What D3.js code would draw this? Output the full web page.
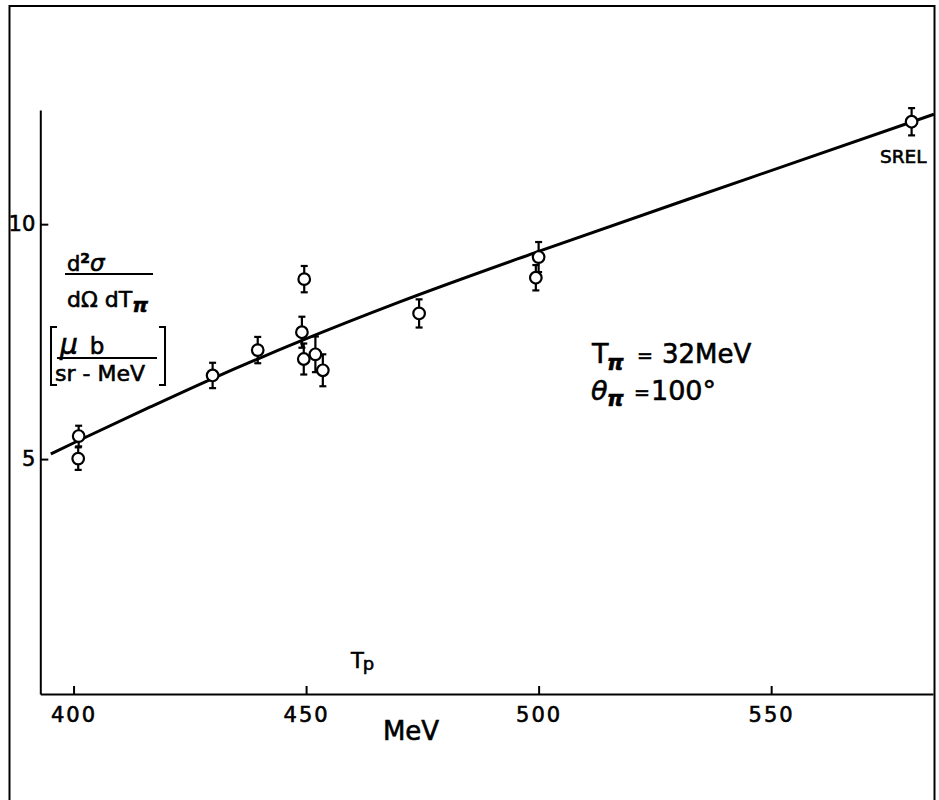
<!DOCTYPE html>
<html>
<head>
<meta charset="utf-8">
<script src="https://cdn.jsdelivr.net/npm/d3@7/dist/d3.min.js"></script>
<style>
  html, body { margin: 0; padding: 0; background: #fff; }
  svg { display: block; font-family: "DejaVu Sans", sans-serif; }
  text { stroke: #000; stroke-width: 0.6px; }
</style>
</head>
<body>
<svg id="chart" width="939" height="800"></svg>
<script>
// ---- data ----
const xTicks = [400, 450, 500, 550];
const yTicks = [5, 10];

// measured points: beam energy Tp (MeV), cross section (μb/sr-MeV), error
const pointTp   = [401.1, 401.0, 429.9, 439.6, 449.1, 449.6, 449.5, 452.0, 453.6, 474.3, 500.0, 499.4, 580.2];
const pointVal  = [5.49, 5.01, 6.78, 7.32, 7.70, 8.83, 7.13, 7.23, 6.89, 8.10, 9.30, 8.86, 12.18];
const pointErr  = [0.22, 0.24, 0.27, 0.28, 0.33, 0.28, 0.33, 0.38, 0.34, 0.30, 0.32, 0.27, 0.29];

// theoretical curve
const curveTp  = [395.1, 401.0, 416.5, 430.0, 449.0, 470.0, 500.0, 545.0, 585.0];
const curveVal = [5.11, 5.39, 6.11, 6.72, 7.52, 8.34, 9.42, 10.97, 12.34];

// ---- drawing ----
const svg = d3.select("#chart");

const x = d3.scaleLinear().domain([392.85, 584.8]).range([40.3, 933]);
const y = d3.scaleLinear().domain([0, 12.43]).range([694, 110]);

// outer frame
svg.append("rect")
  .attr("x", 9.5).attr("y", 6).attr("width", 925).attr("height", 820)
  .attr("fill", "none").attr("stroke", "#000").attr("stroke-width", 2);

// x axis
const gx = svg.append("g")
  .attr("transform", `translate(0,${y(0)})`)
  .call(d3.axisBottom(x).tickValues(xTicks).tickSizeInner(-8).tickSizeOuter(0).tickPadding(13).tickFormat(d3.format("d")));
gx.select(".domain").attr("stroke-width", 2);
gx.selectAll(".tick line").attr("stroke-width", 2);
gx.selectAll(".tick text")
  .attr("font-family", "DejaVu Sans").attr("font-size", 21).attr("letter-spacing", 2).attr("fill", "#000");

// y axis
const gy = svg.append("g")
  .attr("transform", `translate(${x.range()[0]},0)`)
  .call(d3.axisLeft(y).tickValues(yTicks).tickSizeInner(-8).tickSizeOuter(0).tickPadding(5).tickFormat(d3.format("d")));
gy.select(".domain").attr("stroke-width", 2);
gy.selectAll(".tick line").attr("stroke-width", 2);
gy.selectAll(".tick text")
  .attr("font-family", "DejaVu Sans").attr("font-size", 21).attr("fill", "#000");

// curve
const line = d3.line().x(d => x(d[0])).y(d => y(d[1])).curve(d3.curveMonotoneX);
svg.append("path")
  .datum(curveTp.map((t, i) => [t, curveVal[i]]))
  .attr("d", line)
  .attr("fill", "none").attr("stroke", "#000").attr("stroke-width", 3);

// points with error bars
const pts = pointTp.map((t, i) => ({ t, v: pointVal[i], e: pointErr[i] }));
const gp = svg.append("g").attr("stroke", "#000").attr("stroke-width", 2.2);
const cap = 3.5;
pts.forEach(p => {
  const cx = x(p.t), top = y(p.v + p.e), bot = y(p.v - p.e);
  gp.append("line").attr("x1", cx).attr("x2", cx).attr("y1", top).attr("y2", bot);
  gp.append("line").attr("x1", cx - cap).attr("x2", cx + cap).attr("y1", top).attr("y2", top);
  gp.append("line").attr("x1", cx - cap).attr("x2", cx + cap).attr("y1", bot).attr("y2", bot);
});
pts.forEach(p => {
  gp.append("circle").attr("cx", x(p.t)).attr("cy", y(p.v)).attr("r", 5.8).attr("fill", "#fff");
});

// ---- y-axis label ----
const lab = svg.append("g").attr("fill", "#000").attr("font-family", "DejaVu Sans");
const t1 = lab.append("text").attr("x", 67).attr("y", 271).attr("font-size", 21);
t1.append("tspan").text("d");
t1.append("tspan").attr("font-size", 14).attr("dy", -8).attr("font-weight", "bold").text("2");
t1.append("tspan").attr("dy", 8).attr("font-style", "italic").attr("font-size", 23).text("σ");
lab.append("line").attr("x1", 65).attr("x2", 153).attr("y1", 274).attr("y2", 274)
  .attr("stroke", "#000").attr("stroke-width", 2);
const t2 = lab.append("text").attr("x", 67).attr("y", 307).attr("font-size", 22);
t2.append("tspan").text("dΩ dT");
t2.append("tspan").attr("font-style", "italic").attr("font-weight", "bold").attr("font-size", 20).attr("dy", 5).text("π");

lab.append("path").attr("d", "M57,327H51V385H57").attr("fill", "none").attr("stroke", "#000").attr("stroke-width", 2);
lab.append("path").attr("d", "M159,327H165V385H159").attr("fill", "none").attr("stroke", "#000").attr("stroke-width", 2);
const t3 = lab.append("text").attr("x", 60).attr("y", 354);
t3.append("tspan").attr("font-size", 28).attr("font-style", "italic").text("μ");
t3.append("tspan").attr("font-size", 23).attr("dx", 12).text("b");
lab.append("line").attr("x1", 57).attr("x2", 157).attr("y1", 358).attr("y2", 358)
  .attr("stroke", "#000").attr("stroke-width", 2);
lab.append("text").attr("x", 55).attr("y", 381).attr("font-size", 22).text("sr - MeV");

// ---- annotation ----
const ann = svg.append("g").attr("fill", "#000").attr("font-family", "DejaVu Sans");
ann.append("text").attr("x", 592).attr("y", 363).attr("font-size", 27).text("T");
ann.append("text").attr("x", 607).attr("y", 370).attr("font-size", 21).attr("font-style", "italic").attr("font-weight", "bold").text("π");
ann.append("text").attr("x", 637).attr("y", 362).attr("font-size", 19).text("=");
ann.append("text").attr("x", 662).attr("y", 363).attr("font-size", 26).text("32MeV");
ann.append("text").attr("x", 591).attr("y", 400).attr("font-size", 27).attr("font-style", "italic").text("θ");
ann.append("text").attr("x", 607).attr("y", 406).attr("font-size", 21).attr("font-style", "italic").attr("font-weight", "bold").text("π");
ann.append("text").attr("x", 634).attr("y", 399).attr("font-size", 19).text("=");
ann.append("text").attr("x", 651).attr("y", 400).attr("font-size", 27).text("100°");

ann.append("text").attr("x", 880).attr("y", 163).attr("font-size", 18.5).text("SREL");

const tp = ann.append("text").attr("x", 351).attr("y", 668).attr("font-size", 21);
tp.append("tspan").text("T");
tp.append("tspan").attr("font-size", 18).attr("dy", 2).attr("dx", -1).text("p");
ann.append("text").attr("x", 411).attr("y", 740).attr("font-size", 26).attr("text-anchor", "middle").text("MeV");
</script>
</body>
</html>
